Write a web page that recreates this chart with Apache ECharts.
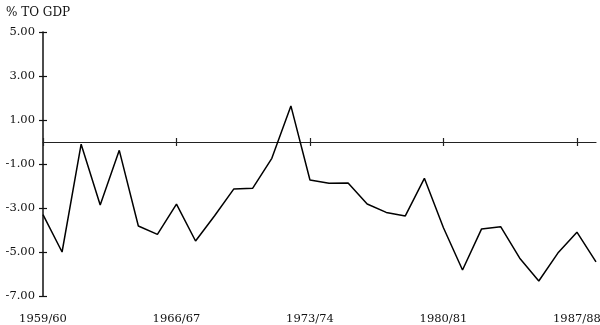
<!DOCTYPE html>
<html><head><meta charset="utf-8">
<script src="https://cdn.jsdelivr.net/npm/echarts@6/dist/echarts.min.js"></script>
<style>html,body{margin:0;padding:0;background:#fff}#c{width:600px;height:325px}</style>
</head><body><div id="c"></div>
<script>
var categories = [];
for (var y = 1959; y <= 1988; y++) { categories.push(y + '/' + String((y + 1) % 100).padStart(2, '0')); }
var values = [-3.3, -5.0, -0.1, -2.86, -0.38, -3.82, -4.2, -2.82, -4.5, -3.35,
  -2.14, -2.1, -0.74, 1.64, -1.73, -1.88, -1.86, -2.82, -3.2, -3.36,
  -1.65, -3.9, -5.82, -3.95, -3.85, -5.28, -6.32, -5.05, -4.1, -5.45];
var yTicks = [-7, -5, -3, -1, 1, 3, 5];
var yTitle = '% TO GDP';

var font = 'DejaVu Serif';
var every7 = function (i) { return i % 7 === 0; };
var chart = echarts.init(document.getElementById('c'));
var baseX = { type: 'category', data: categories, boundaryGap: false, gridIndex: 0 };
chart.setOption({
  animation: false,
  backgroundColor: '#fff',
  title: { text: yTitle, left: 1, top: 2, textStyle: { fontFamily: font, fontSize: 12, fontWeight: 'normal', color: '#111' } },
  grid: { left: 43, right: 4, top: 32, bottom: 29, containLabel: false, outerBoundsMode: 'none' },
  xAxis: [
    Object.assign({}, baseX, { position: 'bottom', axisLine: { show: false, onZero: false }, axisTick: { show: false },
      axisLabel: { interval: every7, hideOverlap: false, margin: 17, fontFamily: font, fontSize: 11.5, color: '#111' }, splitLine: { show: false } }),
    Object.assign({}, baseX, { position: 'bottom', axisLine: { show: true, onZero: true, lineStyle: { color: '#222', width: 1.2 } },
      axisTick: { show: true, interval: every7, length: 4, inside: false, lineStyle: { color: '#222', width: 1.2 } }, axisLabel: { show: false }, splitLine: { show: false } }),
    Object.assign({}, baseX, { position: 'bottom', axisLine: { show: false, onZero: true },
      axisTick: { show: true, interval: every7, length: 4, inside: true, lineStyle: { color: '#222', width: 1.2 } }, axisLabel: { show: false }, splitLine: { show: false } })
  ],
  yAxis: [
    { type: 'value', min: yTicks[0], max: yTicks[yTicks.length - 1], interval: 2, position: 'left',
      axisLine: { show: true, onZero: false, lineStyle: { color: '#111', width: 1.5 } },
      axisTick: { show: true, length: 4, lineStyle: { color: '#111', width: 1.2 } },
      axisLabel: { margin: 8, fontFamily: font, fontSize: 11.5, color: '#111', formatter: function (v) { return v.toFixed(2); } },
      splitLine: { show: false } },
    { type: 'value', min: yTicks[0], max: yTicks[yTicks.length - 1], interval: 2, position: 'left',
      axisLine: { show: false, onZero: false },
      axisTick: { show: true, inside: true, length: 4, lineStyle: { color: '#111', width: 1.2 } },
      axisLabel: { show: false }, splitLine: { show: false } }
  ],
  series: [{ type: 'line', data: values, xAxisIndex: 0, yAxisIndex: 0, symbol: 'none', lineStyle: { color: '#000', width: 1.5 } }]
});
</script></body></html>
